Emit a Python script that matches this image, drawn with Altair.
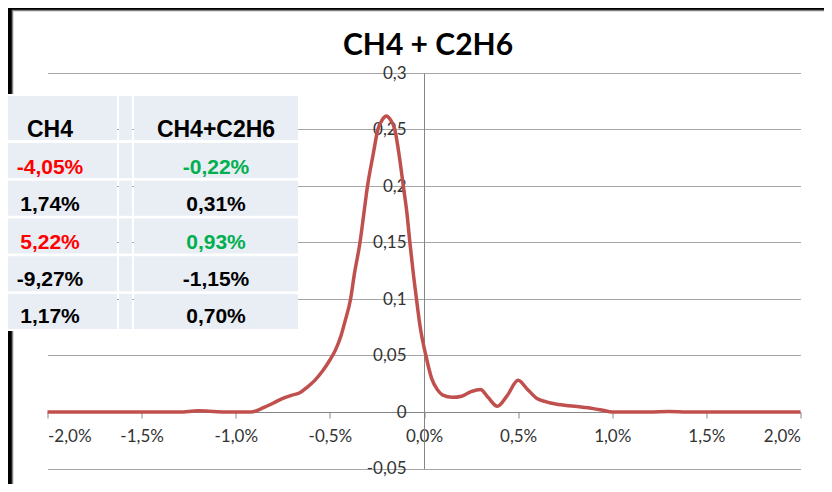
import altair as alt
import pandas as pd

# ---------------- data ----------------
x_pct = [-2.0, -1.6, -1.3, -1.2, -1.1, -1.0, -0.92, -0.85, -0.8, -0.75,
         -0.7, -0.66, -0.62, -0.58, -0.54, -0.5, -0.47, -0.44, -0.42, -0.39,
         -0.37, -0.34, -0.32, -0.30, -0.27, -0.245, -0.22, -0.20, -0.18, -0.155,
         -0.13, -0.11, -0.09, -0.075, -0.055, -0.04, -0.02, 0.01, 0.04, 0.07,
         0.10, 0.15, 0.20, 0.25, 0.30, 0.34, 0.39, 0.44, 0.50, 0.55,
         0.60, 0.65, 0.70, 0.80, 0.90, 0.95, 1.0, 1.2, 1.3, 1.4, 2.0]
density = [0, 0, 0, 0.001, 0.0003, 0, 0, 0.004, 0.008, 0.012,
           0.015, 0.017, 0.022, 0.028, 0.036, 0.046, 0.055, 0.068, 0.08, 0.10,
           0.122, 0.15, 0.175, 0.20, 0.228, 0.25, 0.259, 0.262, 0.259, 0.25,
           0.225, 0.20, 0.175, 0.15, 0.12, 0.10, 0.075, 0.05, 0.03, 0.02,
           0.015, 0.013, 0.014, 0.018, 0.02, 0.013, 0.005, 0.014, 0.028, 0.02,
           0.012, 0.009, 0.007, 0.005, 0.003, 0.0015, 0, 0, 0.0005, 0, 0]
x_ticks = [-2.0, -1.5, -1.0, -0.5, 0.0, 0.5, 1.0, 1.5, 2.0]
y_ticks = [-0.05, 0, 0.05, 0.1, 0.15, 0.2, 0.25, 0.3]
title_text = ["CH4 + C2H6"]
col_headers = ["CH4", "CH4+C2H6"]
ch4_err = [-4.05, 1.74, 5.22, -9.27, 1.17]
mix_err = [-0.22, 0.31, 0.93, -1.15, 0.70]
highlight = [True, False, True, False, False]

# ---------------- styles / layout ----------------
W, H = 753, 395.5
PAD = {"left": 39.5, "top": 65, "right": 23.5, "bottom": 15.5}
LINE_COLOR = "#C0504D"
CELL = "#E9EDF4"
GRID = "#A6A6A6"
AXIS = "#868686"
LBL = "#333333"
RED, GREEN, BLACK = "#FF0000", "#00B050", "#000000"

def pct(v):
    return f"{v:.2f}%".replace(".", ",")

curve = pd.DataFrame({"x": x_pct, "y": density})
tbl = pd.DataFrame({
    "row": list(range(len(ch4_err))),
    "ch4": [pct(v) for v in ch4_err],
    "mix": [pct(v) for v in mix_err],
    "c1": [RED if h else BLACK for h in highlight],
    "c2": [GREEN if h else BLACK for h in highlight],
})
one = pd.DataFrame({"t": title_text, "h1": [col_headers[0]], "h2": [col_headers[1]]})

# ---------------- frame decoration ----------------
top_strip = alt.Chart(one).mark_rect(color="black").encode(
    x=alt.value(-PAD["left"]), x2=alt.value(W + PAD["right"]),
    y=alt.value(-PAD["top"]), y2=alt.value(-PAD["top"] + 2))
left_strip_a = alt.Chart(one).mark_rect(color="black").encode(
    x=alt.value(-PAD["left"]), x2=alt.value(-PAD["left"] + 4),
    y=alt.value(-PAD["top"]), y2=alt.value(21))
left_strip_b = alt.Chart(one).mark_rect(color="black").encode(
    x=alt.value(-PAD["left"]), x2=alt.value(-PAD["left"] + 4),
    y=alt.value(258), y2=alt.value(H + PAD["bottom"]))
top_edge = alt.Chart(one).mark_rule(color="#808080", strokeWidth=1.5).encode(
    x=alt.value(-PAD["left"] + 4), x2=alt.value(W + PAD["right"]),
    y=alt.value(-PAD["top"] + 2.5))
left_edge_a = alt.Chart(one).mark_rule(color="#808080", strokeWidth=1.5).encode(
    x=alt.value(-PAD["left"] + 4.5),
    y=alt.value(-PAD["top"] + 2), y2=alt.value(21))
left_edge_b = alt.Chart(one).mark_rule(color="#808080", strokeWidth=1.5).encode(
    x=alt.value(-PAD["left"] + 4.5),
    y=alt.value(258), y2=alt.value(H + PAD["bottom"]))

# ---------------- curve ----------------
line = alt.Chart(curve).mark_line(
    color=LINE_COLOR, strokeWidth=3.5, interpolate="monotone"
).encode(
    x=alt.X("x:Q",
            scale=alt.Scale(domain=[-2, 2], nice=False, zero=False),
            axis=alt.Axis(values=x_ticks, title=None, grid=False,
                          offset=-56.5, domainColor=AXIS, tickColor=AXIS,
                          tickSize=6, labelPadding=10, labelFont="Lato",
                          labelFontSize=17, labelColor=LBL,
                          labelExpr="replace(replace(format(datum.value/100, '.1%'), '.', ','), '\u2212', '-')")),
    y=alt.Y("y:Q",
            scale=alt.Scale(domain=[-0.05, 0.3], nice=False, zero=False),
            axis=alt.Axis(values=y_ticks, title=None, grid=True,
                          gridColor=GRID, offset=-376.5, domainColor=AXIS,
                          ticks=False, tickSize=0, labelPadding=18,
                          labelFont="Lato", labelFontSize=17, labelColor=LBL,
                          labelExpr="replace(replace(format(datum.value, '~g'), '.', ','), '\u2212', '-')")),
)

# ---------------- table ----------------
C1 = (-39.5, 69.5)
SEP = (71.5, 84.5)
C2 = (86.5, 250.5)
T1, T2 = 2.5, 168.5
HDR = (23, 67)

yrow = alt.Y("row:O", axis=None,
             scale=alt.Scale(range=[70, 256], paddingInner=0.07, paddingOuter=0))

def hdr_rect(c):
    return alt.Chart(one).mark_rect(color=CELL).encode(
        x=alt.value(c[0]), x2=alt.value(c[1]),
        y=alt.value(HDR[0]), y2=alt.value(HDR[1]))

def row_rect(c):
    return alt.Chart(tbl).mark_rect(color=CELL).encode(
        x=alt.value(c[0]), x2=alt.value(c[1]), y=yrow)

hdr_style = dict(font="Liberation Sans", fontWeight="bold", fontSize=23,
                 baseline="alphabetic", align="center", color="black")
val_style = dict(font="Liberation Sans", fontWeight="bold", fontSize=21,
                 baseline="alphabetic", align="center", dy=12.5)

h1 = alt.Chart(one).mark_text(**hdr_style).encode(
    x=alt.value(T1), y=alt.value(64), text="h1:N")
h2 = alt.Chart(one).mark_text(**hdr_style).encode(
    x=alt.value(T2), y=alt.value(64), text="h2:N")
v1 = alt.Chart(tbl).mark_text(**val_style).encode(
    x=alt.value(T1), y=yrow, text="ch4:N", color=alt.Color("c1:N", scale=None))
v2 = alt.Chart(tbl).mark_text(**val_style).encode(
    x=alt.value(T2), y=yrow, text="mix:N", color=alt.Color("c2:N", scale=None))

title = alt.Chart(one).mark_text(
    font="Lato", fontWeight="bold", fontSize=30, baseline="alphabetic",
    align="center", color="black"
).encode(x=alt.value(380.5), y=alt.value(-18), text="t:N")

chart = alt.layer(
    top_strip, left_strip_a, left_strip_b, top_edge, left_edge_a, left_edge_b,
    line,
    hdr_rect(C1), hdr_rect(SEP), hdr_rect(C2),
    row_rect(C1), row_rect(SEP), row_rect(C2),
    h1, h2, v1, v2, title,
).resolve_scale(y="independent").properties(
    width=W, height=H, padding=PAD,
    autosize=alt.AutoSizeParams(type="none"),
    background="white",
).configure_view(stroke=None)

chart.save("out.html", embed_options={"renderer": "svg", "actions": False})
